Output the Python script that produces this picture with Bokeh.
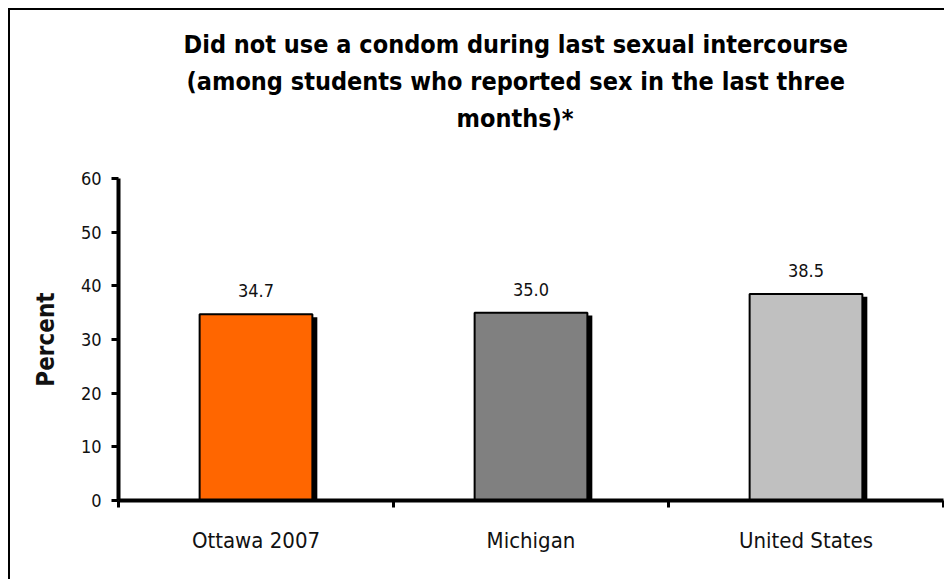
from bokeh.plotting import figure
from bokeh.models import FixedTicker, LinearAxis, ColumnDataSource, Range1d, Title
from bokeh.core.properties import value
from bokeh.embed import file_html
from bokeh.resources import INLINE

categories = ["Ottawa 2007", "Michigan", "United States"]
values = [34.7, 35.0, 38.5]
colors = ["#FF6600", "#808080", "#C0C0C0"]
y_ticks = [0, 10, 20, 30, 40, 50, 60]
title_lines = ["Did not use a condom during last sexual intercourse",
               "(among students who reported sex in the last three",
               "months)*"]
# horizontal offsets of the title lines from the frame's left edge (px)
title_offsets = [65, 68, 338]

FONT = "DejaVu Sans Condensed"

xc = [i + 0.5 for i in range(len(categories))]
bw = 0.41
sx = 0.018   # shadow offset (data units)
sy = 0.55

src = ColumnDataSource(dict(
    left=[c - bw / 2 for c in xc], right=[c + bw / 2 for c in xc],
    sleft=[c - bw / 2 + sx for c in xc], sright=[c + bw / 2 + sx for c in xc],
    top=values, stop=[v - sy for v in values], bottom=[0] * 3,
    color=colors, x=xc, label=["%.1f" % v for v in values]))

p = figure(width=936, height=571, output_backend="svg", toolbar_location=None,
           x_range=Range1d(0, 3), y_range=Range1d(0, 60),
           min_border_left=108, min_border_right=3, min_border_top=168,
           min_border_bottom=81,
           styles={"margin-left": "8px", "margin-top": "8px",
                   "border-left": "2px solid black", "border-top": "2px solid black"})
p.outline_line_color = None
p.grid.visible = False
p.xaxis.visible = False
p.yaxis.visible = False

# shadows then bars
p.quad(left="sleft", right="sright", top="stop", bottom="bottom", source=src,
       fill_color="black", line_color=None)
p.quad(left="left", right="right", top="top", bottom="bottom", source=src,
       fill_color="color", line_color="black", line_width=2)

p.text(x="x", y="top", text="label", source=src, text_align="center",
       text_baseline="bottom", y_offset=-17, text_font=value(FONT),
       text_font_size="18px", text_color="#111111")

yaxis = LinearAxis(ticker=FixedTicker(ticks=y_ticks), axis_label="Percent",
                   axis_line_width=4, major_tick_line_width=3,
                   major_tick_out=7, major_tick_in=0,
                   minor_tick_line_color=None,
                   major_label_text_font=FONT, major_label_text_font_size="18px",
                   major_label_text_color="#111111",
                   major_label_standoff=10,
                   axis_label_text_font=FONT, axis_label_text_font_style="bold",
                   axis_label_text_font_size="24px", axis_label_text_color="#111111",
                   axis_label_standoff=18)
p.add_layout(yaxis, "left")

xaxis = LinearAxis(ticker=FixedTicker(ticks=xc, minor_ticks=[0, 1, 2, 3]),
                   major_label_overrides={c: n for c, n in zip(xc, categories)},
                   axis_line_width=4, major_tick_line_color=None,
                   minor_tick_line_width=3, minor_tick_out=7, minor_tick_in=0,
                   major_label_text_font=FONT, major_label_text_font_size="22px",
                   major_label_text_color="#111111",
                   major_label_standoff=20)
p.add_layout(xaxis, "below")

# spacer between the title block and the plot frame
p.add_layout(Title(text=" ", text_font_size="10px", standoff=30), "above")
for line, off in zip(reversed(title_lines), reversed(title_offsets)):
    p.add_layout(Title(text=line, align="left", offset=off,
                       text_font=FONT, text_font_style="bold",
                       text_font_size="25px", text_color="#000000", standoff=6),
                 "above")

open("out.html", "w").write(file_html(p, INLINE))
